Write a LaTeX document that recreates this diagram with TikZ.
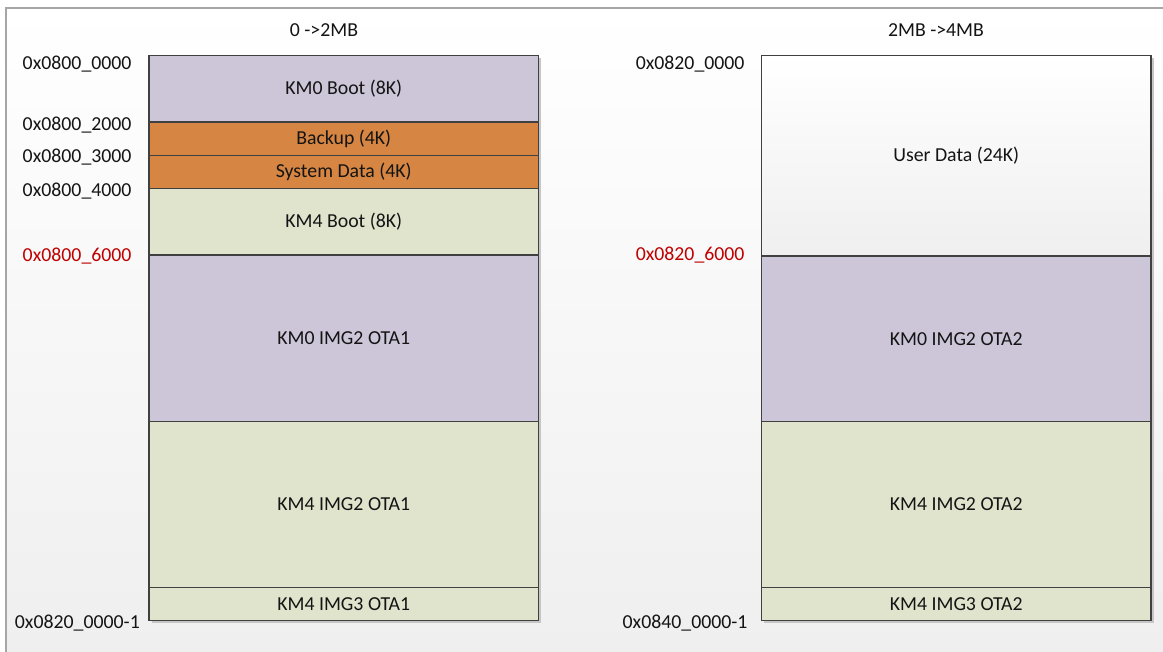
\documentclass[tikz,border=0pt]{standalone}
\usepackage{fontspec}
\setmainfont{Carlito}
\definecolor{kmpurple}{RGB}{205,198,217}
\definecolor{kmorange}{RGB}{214,134,66}
\definecolor{kmgreen}{RGB}{224,228,205}
\definecolor{kmborder}{RGB}{64,64,64}
\definecolor{kmframe}{RGB}{166,166,166}
\definecolor{kmbg}{RGB}{239,239,239}
\definecolor{kmred}{RGB}{192,0,0}
\definecolor{kmtext}{RGB}{20,20,20}
\definecolor{kmshadow}{RGB}{160,160,160}
\begin{document}
\begin{tikzpicture}[x=1pt,y=-1pt,
  every node/.style={font=\fontsize{19.8}{24}\selectfont, text=kmtext},
  memblock/.style={draw=kmborder, line width=1.1pt, rectangle, inner sep=0pt,
    minimum width=389.5pt},
  addr/.style={anchor=east, inner sep=0pt, text height=13pt, text depth=0pt},
  title/.style={inner sep=0pt}
]
\useasboundingbox (0,0) rectangle (1163,652);
% background
\fill[white] (0,0) rectangle (1163,652);
\shade[top color=white, bottom color=kmbg] (6,8) rectangle (1163,652);
\draw[kmframe, line width=1.2pt] (1163,8) -- (6,8) -- (6,652);
% shadows
\fill[kmshadow!60] (151.5,57.8) rectangle (541,623.2);
\fill[kmshadow!60] (764,57.8) rectangle (1153.5,623.2);
% titles
\node[title] (t1) at (324,30) {0 ->2MB};
\node[title] (t2) at (936,30) {2MB ->4MB};
% left column
\node[memblock, fill=kmpurple, minimum height=66.7pt] (km0boot) at (343.75,88.65) {KM0 Boot (8K)};
\node[memblock, fill=kmorange, minimum height=33.5pt] (backup) at (343.75,138.75) {Backup (4K)};
\node[memblock, fill=kmorange, minimum height=33pt] (sysdata) at (343.75,172) {System Data (4K)};
\node[memblock, fill=kmgreen, minimum height=66.5pt] (km4boot) at (343.75,221.75) {KM4 Boot (8K)};
\node[memblock, fill=kmpurple, minimum height=166.7pt] (km0ota1) at (343.75,338.35) {KM0 IMG2 OTA1};
\node[memblock, fill=kmgreen, minimum height=165.6pt] (km4ota1) at (343.75,504.5) {KM4 IMG2 OTA1};
\node[memblock, fill=kmgreen, minimum height=33.4pt] (km4img3ota1) at (343.75,604) {KM4 IMG3 OTA1};
% right column
\node[memblock, top color=white, bottom color=kmbg, minimum height=200.7pt] (userdata) at (956.25,155.65) {User Data (24K)};
\node[memblock, fill=kmpurple, minimum height=165.7pt] (km0ota2) at (956.25,338.85) {KM0 IMG2 OTA2};
\node[memblock, fill=kmgreen, minimum height=165.6pt] (km4ota2) at (956.25,504.5) {KM4 IMG2 OTA2};
\node[memblock, fill=kmgreen, minimum height=33.4pt] (km4img3ota2) at (956.25,604) {KM4 IMG3 OTA2};
% address labels left
\node[addr] (a1) at (131.7,63) {0x0800\_0000};
\node[addr] (a2) at (131.7,124.5) {0x0800\_2000};
\node[addr] (a3) at (131.7,156.5) {0x0800\_3000};
\node[addr] (a4) at (131.7,190) {0x0800\_4000};
\node[addr, text=kmred] (a5) at (131.7,255) {0x0800\_6000};
\node[addr] (a6) at (140,621.5) {0x0820\_0000-1};
% address labels right
\node[addr] (b1) at (744.7,63) {0x0820\_0000};
\node[addr, text=kmred] (b2) at (744.7,254.5) {0x0820\_6000};
\node[addr] (b3) at (747.7,621.5) {0x0840\_0000-1};
\end{tikzpicture}
\end{document}
